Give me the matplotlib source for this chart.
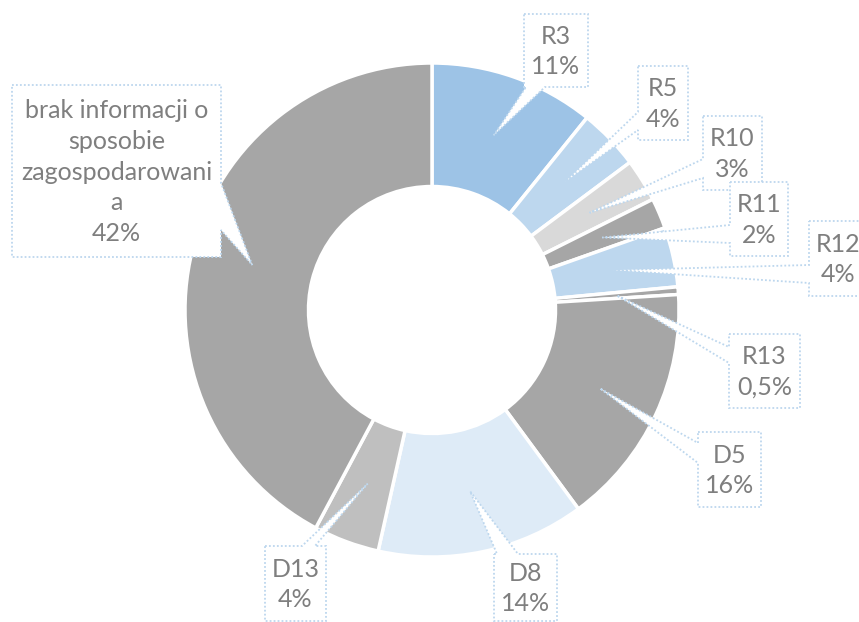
import matplotlib
matplotlib.use("Agg")
import matplotlib.pyplot as plt
from matplotlib.patches import Polygon
import numpy as np

# ---- data ----
categories = ["R3", "R5", "R10", "R11", "R12", "R13", "D5", "D8", "D13",
              "brak informacji o\nsposobie\nzagospodarowani\na"]
values = [10.8, 4.0, 2.8, 2.0, 3.9, 0.5, 15.9, 13.6, 4.3, 42.2]
pct_labels = ["11%", "4%", "3%", "2%", "4%", "0,5%", "16%", "14%", "4%", "42%"]
colors = ["#9DC3E6", "#BDD7EE", "#D9D9D9", "#A6A6A6", "#BDD7EE", "#A6A6A6",
          "#A6A6A6", "#DEEBF7", "#BFBFBF", "#A6A6A6"]

# ---- layout (pixel coords, origin top-left) ----
W, H = 859, 622
CX, CY, R = 432, 310, 247
boxes = [(524, 14, 588, 87), (638, 66, 688, 140), (703, 116, 762, 190),
         (730, 182, 788, 256), (809, 221, 867, 296), (729, 334, 800, 408),
         (698, 432, 761, 507), (494, 554, 557, 621), (265, 546, 326, 621),
         (12, 85, 221, 257)]
sides = ["bottom", "left", "left", "left", "left", "left", "left", "top", "top", "right"]
bases = [(526, 545), (112, 130), (159, 178), (225, 243), (265, 283), (347, 363),
         (443, 463), (497, 518), (302, 315), (183, 230)]

fig = plt.figure(figsize=(W / 100, H / 100), dpi=100)
ax = fig.add_axes([0, 0, 1, 1])
wedges, _ = ax.pie(values, colors=colors, startangle=90, counterclock=False,
                   radius=1.0, wedgeprops=dict(width=0.5, edgecolor="white", linewidth=2.5))
ax.set_xlim(-CX / R, (W - CX) / R)
ax.set_ylim(-(H - CY) / R, CY / R)
ax.set_aspect("auto")
ax.axis("off")


def d(x, y):
    return ((x - CX) / R, (CY - y) / R)


for i, w in enumerate(wedges):
    mid = np.deg2rad((w.theta1 + w.theta2) / 2)
    tip = (0.75 * np.cos(mid), 0.75 * np.sin(mid))
    x0, y0, x1, y1 = boxes[i]
    b0, b1 = bases[i]
    s = sides[i]
    TL, TR, BR, BL = d(x0, y0), d(x1, y0), d(x1, y1), d(x0, y1)
    if s == "top":
        pts = [TL, d(b0, y0), tip, d(b1, y0), TR, BR, BL]
    elif s == "right":
        pts = [TL, TR, d(x1, b0), tip, d(x1, b1), BR, BL]
    elif s == "bottom":
        pts = [TL, TR, BR, d(b1, y1), tip, d(b0, y1), BL]
    else:
        pts = [TL, TR, BR, BL, d(x0, b1), tip, d(x0, b0)]
    poly = Polygon(pts, closed=True, facecolor="white", edgecolor="#BDD7EE",
                   linewidth=1.3, linestyle=(0, (1, 1.2)), zorder=5 + i)
    ax.add_patch(poly)
    cx, cy = d((x0 + x1) / 2, (y0 + y1) / 2 + 1)
    ax.text(cx, cy, categories[i] + "\n" + pct_labels[i], ha="center", va="center",
            fontsize=18, color="#7F7F7F", family=["Lato", "DejaVu Sans"],
            linespacing=1.42, zorder=20 + i)

fig.savefig("out.png", dpi=100)
